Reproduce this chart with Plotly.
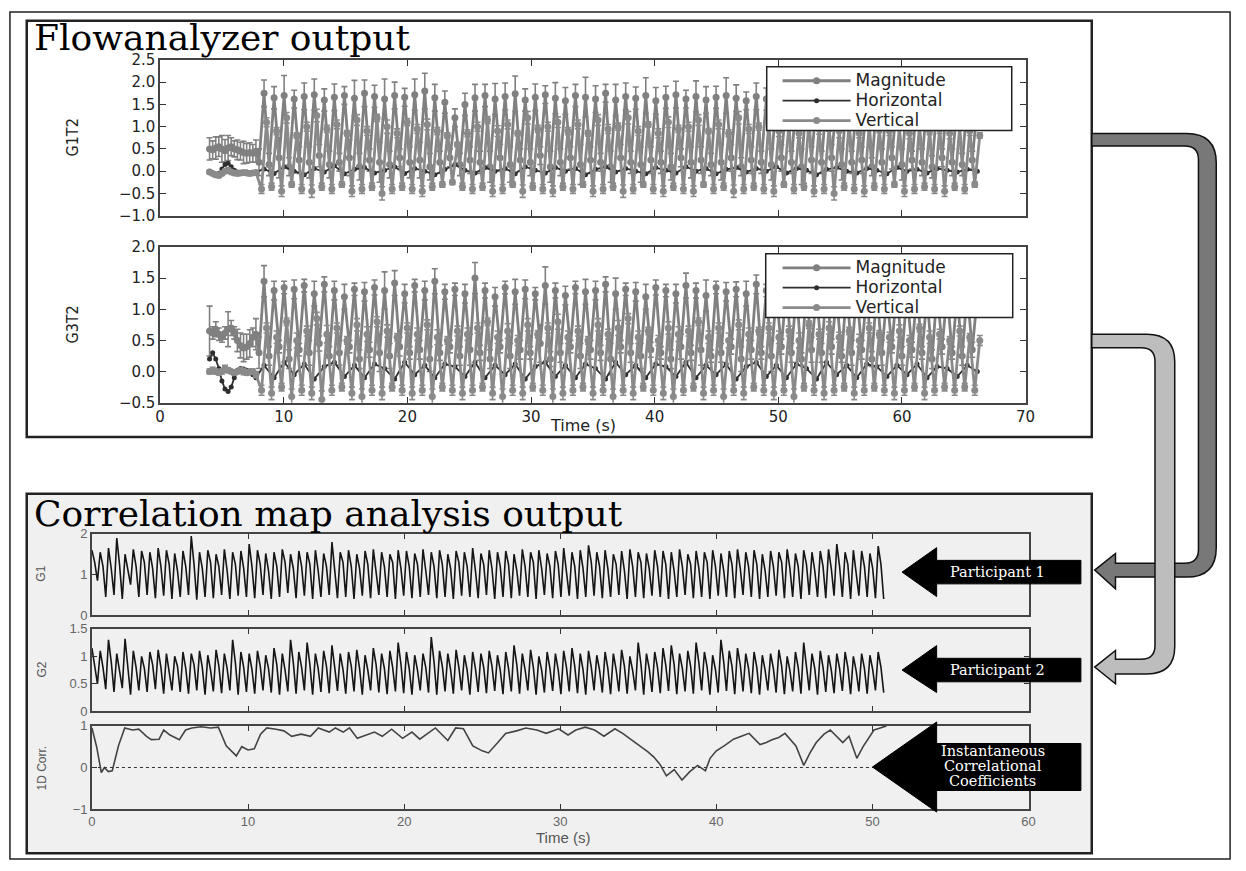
import plotly.graph_objects as go

W, H = 1246, 871

# ---------------- DATA: Flowanalyzer output (G1T2) ----------------
pre_start, pre_step = 4.0, 0.25
mag_pre1 = [0.50,0.48,0.52,0.55,0.50,0.46,0.52,0.55,0.50,0.48,0.45,0.42,0.40,0.42,0.40,0.45]
mag_pre_err1 = [0.25,0.20,0.25,0.22,0.30,0.25,0.28,0.20,0.18,0.22,0.20,0.25,0.22,0.22,0.20,0.25]
horiz_pre1 = [0.00,-0.05,-0.08,-0.05,0.05,0.15,0.18,0.10,0.02,-0.02,-0.04,-0.03,-0.02,-0.03,-0.04,-0.02]
vert_pre1 = [-0.02,-0.05,-0.08,-0.10,-0.05,0.00,0.02,-0.02,-0.04,-0.05,-0.04,-0.03,-0.04,-0.05,-0.04,-0.03]
vert_pre_err1 = [0.04,0.03,0.05,0.04,0.03,0.04,0.05,0.03,0.04,0.03,0.04,0.03,0.04,0.03,0.04,0.03]

main_start, main_end = 8.0, 66.5
mag_peak1 = [1.75,1.65,1.70,1.62,1.68,1.72,1.60,1.66,1.70,1.64,1.75,1.68,1.62,1.70,1.66,
             1.72,1.80,1.65,1.55,1.20,1.50,
             1.65,1.70,1.62,1.68,1.74,1.60,1.66,1.72,1.64,1.58,
             1.70,1.66,1.62,1.75,1.60,1.68,1.64,1.70,1.58,1.66,
             1.72,1.62,1.68,1.60,1.66,1.70,1.64,1.58,1.68,1.62,
             1.66,1.60,1.70,1.64,1.58,1.66,1.62,1.68,1.56,1.64,
             1.60,1.66,1.58,1.62,1.55,1.60,1.52,1.58,1.50,1.55,1.45]
mag_err1 = [0.30,0.25,0.45,0.20,0.30,0.35,0.25,0.30,0.20,0.40,0.30,0.25,0.45,0.30,0.20,
            0.35,0.40,0.30,0.25,0.20,0.25,
            0.30,0.25,0.35,0.30,0.40,0.25,0.30,0.20,0.35,0.30,
            0.25,0.45,0.30,0.20,0.35,0.30,0.25,0.40,0.30,0.25,
            0.30,0.20,0.35,0.30,0.25,0.40,0.30,0.20,0.30,0.25,
            0.35,0.30,0.25,0.40,0.30,0.25,0.30,0.35,0.25,0.30,
            0.20,0.30,0.25,0.35,0.20,0.30,0.25,0.20,0.30,0.25,0.20]
mag_trough1 = [0.20,0.15,0.30,0.10,0.25,0.20,0.35,0.15,0.20,0.30,0.10,0.25,0.20,0.15,0.30,
               0.20,0.25,0.10,0.20,0.30,0.15,
               0.25,0.20,0.10,0.30,0.15,0.25,0.20,0.35,0.10,0.20,
               0.30,0.15,0.25,0.20,0.10,0.30,0.20,0.15,0.25,0.20,
               0.10,0.30,0.20,0.25,0.15,0.20,0.30,0.10,0.25,0.20,
               0.15,0.30,0.20,0.10,0.25,0.20,0.30,0.15,0.20,0.25,
               0.10,0.20,0.30,0.15,0.25,0.20,0.10,0.30,0.20,0.15,0.25]
vert_peak1 = [1.10,0.90,1.20,0.80,1.00,1.25,0.95,1.05,0.85,1.15,0.90,1.20,1.00,0.85,1.10,
              0.95,1.05,0.90,0.80,0.60,0.85,
              1.00,1.15,0.90,1.05,0.85,1.20,0.95,1.00,1.10,0.90,
              1.05,0.85,1.15,0.95,1.00,1.20,0.90,1.05,0.85,1.10,
              0.95,1.00,1.15,0.90,1.05,0.85,1.20,0.95,1.00,1.10,
              0.90,1.05,0.85,1.15,0.95,1.00,0.90,1.10,0.85,1.05,
              0.95,0.90,1.00,0.85,1.05,0.90,0.95,0.85,1.00,0.90,0.80]
vert_trough1 = [-0.40,-0.35,-0.45,-0.30,-0.40,-0.45,-0.35,-0.40,-0.30,-0.45,-0.40,-0.35,-0.50,-0.40,-0.35,
                -0.40,-0.45,-0.35,-0.30,-0.25,-0.35,
                -0.40,-0.35,-0.45,-0.40,-0.30,-0.45,-0.35,-0.40,-0.45,-0.35,
                -0.40,-0.30,-0.45,-0.40,-0.35,-0.45,-0.40,-0.30,-0.40,-0.45,
                -0.35,-0.40,-0.45,-0.30,-0.40,-0.35,-0.45,-0.40,-0.35,-0.40,
                -0.45,-0.30,-0.40,-0.35,-0.45,-0.40,-0.50,-0.35,-0.40,-0.45,
                -0.35,-0.40,-0.30,-0.45,-0.40,-0.35,-0.40,-0.45,-0.35,-0.40,-0.30]
vert_err1 = [0.10,0.08,0.12,0.06,0.10,0.14,0.08,0.10,0.06,0.12,0.10,0.08,0.15,0.10,0.08,
             0.10,0.12,0.08,0.06,0.05,0.08,
             0.10,0.08,0.12,0.10,0.06,0.14,0.08,0.10,0.12,0.08,
             0.10,0.06,0.12,0.10,0.08,0.14,0.10,0.06,0.10,0.12,
             0.08,0.10,0.12,0.06,0.10,0.08,0.14,0.10,0.08,0.10,
             0.12,0.06,0.10,0.08,0.12,0.10,0.15,0.08,0.10,0.12,
             0.08,0.10,0.06,0.12,0.10,0.08,0.10,0.12,0.08,0.10,0.06]
horiz1 = [0.05,-0.05,0.10,0.00,-0.08,0.06,-0.02,0.12,-0.06,0.04,0.08,-0.04,0.02,0.10,-0.05,
          0.06,0.00,-0.08,0.04,0.15,0.02,
          -0.04,0.08,0.00,0.06,-0.06,0.10,0.02,-0.04,0.08,0.00,
          0.06,-0.08,0.04,0.10,-0.02,0.06,0.00,-0.06,0.08,0.02,
          -0.04,0.10,0.00,0.06,-0.06,0.04,0.08,-0.02,0.06,0.00,
          0.10,-0.04,0.06,0.02,-0.08,0.04,0.08,0.00,-0.04,0.06,
          0.02,-0.06,0.08,0.00,0.04,-0.04,0.06,0.02,-0.02,0.04,0.00]

# ---------------- DATA: Flowanalyzer output (G3T2) ----------------
mag_pre2 = [0.65,0.62,0.68,0.60,0.55,0.62,0.68,0.70,0.62,0.50,0.42,0.38,0.40,0.45,0.55,0.60]
mag_pre_err2 = [0.40,0.10,0.12,0.10,0.08,0.10,0.28,0.12,0.10,0.18,0.20,0.22,0.20,0.22,0.15,0.25]
horiz_pre2 = [0.20,0.30,0.20,0.05,-0.15,-0.28,-0.32,-0.25,-0.10,0.02,0.05,0.04,0.02,0.00,-0.05,-0.10]
vert_pre2 = [0.00,0.02,0.00,-0.02,0.00,0.05,0.02,0.00,-0.02,0.00,0.02,0.00,-0.02,0.00,0.00,-0.05]
vert_pre_err2 = [0.04,0.05,0.04,0.03,0.04,0.05,0.04,0.03,0.04,0.03,0.04,0.05,0.04,0.03,0.04,0.05]

mag_peak2 = [1.45,1.30,1.35,1.32,1.38,1.25,1.40,1.30,1.20,1.32,1.28,1.35,1.30,1.42,1.25,
             1.38,1.30,1.45,1.28,1.32,1.25,
             1.50,1.30,1.20,1.35,1.28,1.32,1.25,1.38,1.30,1.22,
             1.35,1.28,1.30,1.40,1.25,1.32,1.28,1.20,1.35,1.30,
             1.25,1.38,1.30,1.22,1.35,1.28,1.32,1.25,1.40,1.30,
             1.22,1.35,1.28,1.30,1.25,1.38,1.20,1.32,1.28,1.25,
             1.30,1.22,1.35,1.25,1.28,1.20,1.30,1.25,1.22,1.28,1.20]
mag_err2 = [0.25,0.15,0.10,0.15,0.10,0.20,0.12,0.15,0.20,0.10,0.15,0.12,0.30,0.20,0.15,
            0.10,0.15,0.20,0.12,0.10,0.15,
            0.25,0.12,0.15,0.10,0.20,0.15,0.10,0.30,0.12,0.15,
            0.10,0.20,0.15,0.12,0.25,0.10,0.15,0.20,0.12,0.10,
            0.15,0.20,0.12,0.25,0.10,0.15,0.12,0.20,0.15,0.10,
            0.25,0.12,0.15,0.10,0.20,0.15,0.12,0.10,0.20,0.15,
            0.12,0.20,0.10,0.15,0.12,0.10,0.15,0.12,0.10,0.15,0.12]
mag_trough2 = [0.30,0.25,0.40,0.20,0.35,0.30,0.45,0.25,0.30,0.40,0.20,0.35,0.30,0.25,0.40,
               0.30,0.35,0.20,0.30,0.40,0.25,
               0.35,0.30,0.20,0.40,0.25,0.35,0.30,0.45,0.20,0.30,
               0.40,0.25,0.35,0.30,0.20,0.40,0.30,0.25,0.35,0.30,
               0.20,0.40,0.30,0.35,0.25,0.30,0.40,0.20,0.35,0.30,
               0.25,0.40,0.30,0.20,0.35,0.30,0.40,0.25,0.30,0.35,
               0.20,0.30,0.40,0.25,0.35,0.30,0.20,0.40,0.30,0.25,0.35]
vert_peak2 = [0.70,0.55,0.80,0.50,0.65,0.85,0.60,0.70,0.50,0.75,0.60,0.80,0.65,0.55,0.70,
              0.60,0.75,0.55,0.50,0.65,0.60,
              0.70,0.80,0.55,0.65,0.50,0.75,0.60,0.70,0.80,0.55,
              0.65,0.50,0.75,0.60,0.70,0.85,0.55,0.65,0.50,0.70,
              0.60,0.65,0.80,0.55,0.70,0.50,0.75,0.60,0.65,0.70,
              0.55,0.65,0.50,0.75,0.60,0.70,0.55,0.65,0.50,0.70,
              0.60,0.55,0.65,0.50,0.70,0.55,0.60,0.50,0.65,0.55,0.50]
vert_trough2 = [-0.30,-0.35,-0.25,-0.40,-0.30,-0.35,-0.45,-0.30,-0.25,-0.35,-0.40,-0.30,-0.35,-0.25,-0.30,
                -0.35,-0.30,-0.40,-0.25,-0.30,-0.35,
                -0.30,-0.25,-0.35,-0.40,-0.30,-0.35,-0.25,-0.30,-0.40,-0.35,
                -0.30,-0.25,-0.35,-0.30,-0.40,-0.30,-0.35,-0.25,-0.30,-0.35,
                -0.40,-0.30,-0.25,-0.35,-0.30,-0.40,-0.30,-0.35,-0.25,-0.30,
                -0.35,-0.30,-0.40,-0.25,-0.30,-0.35,-0.30,-0.25,-0.35,-0.30,
                -0.25,-0.30,-0.35,-0.30,-0.25,-0.35,-0.30,-0.25,-0.30,-0.25,-0.30]
vert_err2 = [0.08,0.10,0.06,0.12,0.08,0.10,0.14,0.08,0.06,0.10,0.12,0.08,0.10,0.06,0.08,
             0.10,0.08,0.12,0.06,0.08,0.10,
             0.08,0.06,0.10,0.12,0.08,0.10,0.06,0.08,0.12,0.10,
             0.08,0.06,0.10,0.08,0.12,0.08,0.10,0.06,0.08,0.10,
             0.12,0.08,0.06,0.10,0.08,0.12,0.08,0.10,0.06,0.08,
             0.10,0.08,0.12,0.06,0.08,0.10,0.08,0.06,0.10,0.08,
             0.06,0.08,0.10,0.08,0.06,0.10,0.08,0.06,0.08,0.06,0.08]
horiz2 = [0.10,-0.10,0.15,-0.05,0.12,-0.12,0.08,0.15,-0.08,0.10,-0.10,0.12,0.05,-0.12,0.15,
          -0.05,0.10,-0.10,0.12,0.08,-0.08,
          0.15,-0.10,0.10,-0.05,0.12,-0.12,0.08,0.15,-0.08,0.10,
          -0.10,0.12,0.05,-0.12,0.15,-0.05,0.10,-0.10,0.12,0.08,
          -0.08,0.15,-0.10,0.10,-0.05,0.12,-0.12,0.08,0.15,-0.08,
          0.10,-0.10,0.12,0.05,-0.12,0.15,-0.05,0.10,-0.10,0.12,
          0.08,-0.08,0.10,-0.05,0.12,-0.10,0.08,0.05,-0.08,0.10,0.00]

# ---------------- DATA: Correlation map analysis ----------------
cm_end = 50.9
g1_peak = [1.60,1.55,1.65,1.90,1.50,1.62,1.58,1.55,1.65,1.60,
           1.52,1.58,1.95,1.55,1.60,1.50,1.62,1.55,1.58,1.75,
           1.60,1.52,1.55,1.62,1.50,1.58,1.55,1.60,1.52,1.80,
           1.55,1.60,1.50,1.58,1.62,1.55,1.50,1.60,1.58,1.52,
           1.62,1.55,1.60,1.50,1.58,1.55,1.65,1.52,1.60,1.55,
           1.58,1.50,1.62,1.55,1.60,1.52,1.58,1.65,1.55,1.60,
           1.72,1.55,1.60,1.50,1.58,1.62,1.55,1.52,1.60,1.58,
           1.55,1.62,1.50,1.58,1.55,1.60,1.52,1.58,1.62,1.55,
           1.60,1.50,1.58,1.55,1.62,1.52,1.60,1.55,1.58,1.62,
           1.75,1.55,1.60,1.58,1.52,1.70]
g1_mid = [1.30,1.20,1.15,1.25,1.10,1.20,1.30,1.15,1.20,1.25,
          1.10,1.20,1.25,1.15,1.30,1.20,1.10,1.25,1.15,1.20,
          1.25,1.10,1.20,1.30,1.15,1.20,1.25,1.10,1.20,1.15,
          1.30,1.20,1.15,1.25,1.10,1.20,1.30,1.15,1.20,1.25,
          1.10,1.20,1.25,1.15,1.30,1.20,1.10,1.25,1.15,1.20,
          1.25,1.10,1.20,1.30,1.15,1.20,1.25,1.10,1.20,1.15,
          1.30,1.20,1.15,1.25,1.10,1.20,1.30,1.15,1.20,1.25,
          1.10,1.20,1.25,1.15,1.30,1.20,1.10,1.25,1.15,1.20,
          1.25,1.10,1.20,1.30,1.15,1.20,1.25,1.10,1.20,1.15,
          1.20,1.25,1.10,1.20,1.15,1.25]
g1_trough = [0.85,0.45,0.50,0.40,0.75,0.45,0.50,0.42,0.48,0.40,
             0.45,0.50,0.38,0.45,0.42,0.50,0.40,0.48,0.45,0.42,
             0.50,0.40,0.45,0.55,0.42,0.48,0.40,0.45,0.50,0.42,
             0.45,0.40,0.48,0.42,0.50,0.45,0.40,0.48,0.42,0.45,
             0.50,0.42,0.45,0.40,0.48,0.45,0.42,0.50,0.40,0.45,
             0.42,0.48,0.45,0.40,0.50,0.42,0.45,0.48,0.40,0.45,
             0.48,0.42,0.45,0.50,0.40,0.45,0.42,0.48,0.45,0.40,
             0.45,0.50,0.42,0.45,0.40,0.48,0.45,0.42,0.50,0.45,
             0.40,0.45,0.48,0.42,0.45,0.40,0.50,0.45,0.42,0.48,
             0.45,0.40,0.48,0.45,0.42,0.40]
g2_peak = [1.15,1.10,1.30,1.05,1.32,1.10,1.00,1.08,1.12,1.05,
           1.00,1.08,1.05,1.10,1.02,1.12,1.05,1.30,1.08,1.05,
           1.10,1.02,1.15,1.05,1.30,1.08,1.25,1.05,1.10,1.20,
           1.05,1.08,1.12,1.02,1.15,1.05,1.10,1.25,1.08,1.02,
           1.05,1.35,1.10,1.05,1.12,1.02,1.08,1.05,1.10,1.02,
           1.08,1.20,1.05,1.12,1.00,1.08,1.05,1.10,1.15,1.05,
           1.10,1.02,1.08,1.05,1.12,1.00,1.25,1.05,1.08,1.15,
           1.20,1.05,1.10,1.25,1.08,1.02,1.30,1.10,1.15,1.05,
           1.08,1.02,1.05,1.12,1.00,1.08,1.25,1.05,1.10,1.02,
           1.05,1.08,1.00,1.05,1.02,1.08]
g2_mid = [0.85,0.80,0.90,0.75,0.85,0.80,0.78,0.85,0.80,0.75,
          0.82,0.78,0.85,0.80,0.75,0.82,0.78,0.88,0.80,0.76,
          0.82,0.78,0.85,0.75,0.88,0.80,0.85,0.78,0.82,0.80,
          0.76,0.82,0.78,0.75,0.85,0.78,0.80,0.86,0.78,0.75,
          0.80,0.90,0.82,0.76,0.80,0.75,0.78,0.80,0.82,0.75,
          0.78,0.85,0.76,0.80,0.75,0.78,0.76,0.80,0.82,0.76,
          0.80,0.75,0.78,0.76,0.82,0.74,0.86,0.78,0.80,0.84,
          0.86,0.78,0.82,0.88,0.80,0.76,0.90,0.82,0.85,0.78,
          0.80,0.75,0.78,0.82,0.74,0.80,0.86,0.78,0.80,0.75,
          0.78,0.80,0.74,0.78,0.76,0.80]
g2_trough = [0.50,0.40,0.35,0.42,0.30,0.38,0.35,0.40,0.32,0.38,
             0.35,0.32,0.38,0.30,0.36,0.33,0.38,0.30,0.35,0.32,
             0.38,0.34,0.30,0.36,0.32,0.38,0.30,0.35,0.33,0.37,
             0.32,0.36,0.30,0.38,0.34,0.31,0.36,0.33,0.30,0.38,
             0.34,0.30,0.36,0.32,0.38,0.30,0.35,0.33,0.37,0.31,
             0.36,0.32,0.38,0.30,0.34,0.37,0.31,0.36,0.33,0.30,
             0.38,0.34,0.31,0.36,0.32,0.38,0.30,0.35,0.33,0.37,
             0.31,0.36,0.32,0.38,0.30,0.34,0.37,0.31,0.36,0.33,
             0.30,0.38,0.34,0.31,0.36,0.32,0.38,0.30,0.35,0.33,
             0.37,0.31,0.36,0.32,0.38,0.34]
corr_t = [0.0,0.3,0.6,0.8,1.05,1.3,1.7,2.1,2.6,3.0,3.5,3.8,4.3,4.6,5.0,5.6,6.0,6.4,7.0,7.6,
          8.1,8.6,9.25,9.6,10.0,10.4,10.8,11.2,11.8,12.3,12.8,13.4,14.0,14.5,15.2,15.6,16.1,16.5,17.0,17.6,
          18.1,18.6,19.2,19.9,20.5,21.0,21.5,22.0,22.8,23.3,23.8,24.4,25.0,25.4,26.0,26.5,27.2,27.8,28.5,29.1,
          29.9,30.5,31.0,31.6,32.2,32.8,33.5,34.0,34.5,35.0,35.6,36.0,36.4,36.8,37.3,37.8,38.3,38.8,39.3,39.6,
          40.0,40.5,41.1,41.6,42.1,42.8,43.2,43.6,44.0,44.4,45.1,45.6,46.0,46.4,46.9,47.3,47.7,48.1,48.5,49.0,
          49.4,49.7,50.1,50.5,50.9]
corr_r = [0.95,0.50,-0.12,0.00,-0.10,-0.08,0.52,0.95,0.90,0.92,0.75,0.67,0.68,0.90,0.78,0.67,0.90,0.95,0.98,0.95,
          0.97,0.52,0.28,0.50,0.42,0.45,0.80,0.95,0.92,0.88,0.75,0.80,0.75,0.95,0.85,0.95,0.85,0.95,0.70,0.78,
          0.85,0.75,0.92,0.70,0.85,0.68,0.82,0.95,0.65,0.95,0.93,0.52,0.40,0.35,0.60,0.82,0.88,0.95,0.90,0.82,
          0.93,0.78,0.90,0.97,0.90,0.75,0.93,0.82,0.68,0.55,0.38,0.25,0.07,-0.20,-0.05,-0.30,-0.10,0.05,-0.08,0.22,
          0.40,0.52,0.68,0.75,0.82,0.55,0.60,0.67,0.72,0.82,0.52,0.05,0.35,0.60,0.80,0.90,0.75,0.60,0.75,0.22,
          0.50,0.68,0.90,0.95,1.00]

series_names = ["Magnitude", "Horizontal", "Vertical"]
panel_titles = ["Flowanalyzer output", "Correlation map analysis output"]
arrow_labels = ["Participant 1", "Participant 2", ["Instantaneous", "Correlational", "Coefficients"]]

# ---------------- helpers ----------------
def px(x):
    return x / W

def py(y):
    return 1 - y / H

def path(cmds):
    out = []
    for c in cmds:
        op, nums = c[0], c[1:]
        pts = []
        for i in range(0, len(nums), 2):
            pts.append(f"{px(nums[i]):.5f},{py(nums[i+1]):.5f}")
        out.append(op + " " + " ".join(pts))
    return " ".join(out) + " Z"

def build_top(mag_pre, mag_pre_err, horiz_pre, vert_pre, vert_pre_err, mag_trough, mag_peak, mag_err,
              vert_trough, vert_peak, vert_err, horiz):
    n = len(mag_peak)
    P = (main_end - main_start) / n
    pre_t = [pre_start + pre_step * k for k in range(len(mag_pre))]
    mt, my, me = list(pre_t), list(mag_pre), list(mag_pre_err)
    vt, vy, ve = list(pre_t), list(vert_pre), list(vert_pre_err)
    ht, hy = list(pre_t), list(horiz_pre)
    for i, (tr, pk, e) in enumerate(zip(mag_trough, mag_peak, mag_err)):
        t0 = main_start + i * P
        mt += [t0, t0 + P / 2]
        my += [tr, pk]
        me += [e, e]
    for i, (tr, pk, e) in enumerate(zip(vert_trough, vert_peak, vert_err)):
        t0 = main_start + i * P
        vt += [t0 + P / 4, t0 + 3 * P / 4]
        vy += [tr, pk]
        ve += [e, e]
    for i, h in enumerate(horiz):
        t0 = main_start + i * P
        ht.append(t0 + P / 2)
        hy.append(h)
    return (mt, my, me), (ht, hy), (vt, vy, ve)

def build_bottom(peak, mid, trough):
    n = len(peak)
    P = cm_end / n
    t, y = [], []
    for i, (a, b, c) in enumerate(zip(peak, mid, trough)):
        t0 = i * P
        t += [t0, t0 + P / 3, t0 + 2 * P / 3]
        y += [a, b, c]
    return t, y

fig = go.Figure()

MAG_C, HOR_C, VER_C = "#808080", "#2e2e2e", "#8a8a8a"
LEG_TXT = "<span style='font-size:17px'>{}</span>"
top_sets = [
    build_top(mag_pre1, mag_pre_err1, horiz_pre1, vert_pre1, vert_pre_err1, mag_trough1, mag_peak1, mag_err1,
              vert_trough1, vert_peak1, vert_err1, horiz1),
    build_top(mag_pre2, mag_pre_err2, horiz_pre2, vert_pre2, vert_pre_err2, mag_trough2, mag_peak2, mag_err2,
              vert_trough2, vert_peak2, vert_err2, horiz2),
]
for k, ((mt, my, me), (ht, hy), (vt, vy, ve)) in enumerate(top_sets):
    xa, ya = ("x", "y") if k == 0 else ("x2", "y2")
    lg = "legend" if k == 0 else "legend2"
    fig.add_trace(go.Scatter(x=mt, y=my, mode="lines+markers", name=LEG_TXT.format(series_names[0]),
                             xaxis=xa, yaxis=ya, legend=lg, legendrank=1,
                             line=dict(color=MAG_C, width=2.8),
                             marker=dict(color=MAG_C, size=7),
                             error_y=dict(type="data", array=me, color=MAG_C, thickness=1.6, width=3)))
    fig.add_trace(go.Scatter(x=ht, y=hy, mode="lines+markers", name=LEG_TXT.format(series_names[1]),
                             xaxis=xa, yaxis=ya, legend=lg, legendrank=2,
                             line=dict(color=HOR_C, width=1.8),
                             marker=dict(color=HOR_C, size=5)))
    fig.add_trace(go.Scatter(x=vt, y=vy, mode="lines+markers", name=LEG_TXT.format(series_names[2]),
                             xaxis=xa, yaxis=ya, legend=lg, legendrank=3,
                             line=dict(color=VER_C, width=2.8),
                             marker=dict(color=VER_C, size=7),
                             error_y=dict(type="data", array=ve, color=VER_C, thickness=1.6, width=3)))

g1_t, g1_y = build_bottom(g1_peak, g1_mid, g1_trough)
g2_t, g2_y = build_bottom(g2_peak, g2_mid, g2_trough)
fig.add_trace(go.Scatter(x=g1_t, y=g1_y, mode="lines", xaxis="x3", yaxis="y3", showlegend=False,
                         line=dict(color="#151515", width=1.6)))
fig.add_trace(go.Scatter(x=g2_t, y=g2_y, mode="lines", xaxis="x4", yaxis="y4", showlegend=False,
                         line=dict(color="#151515", width=1.6)))
fig.add_trace(go.Scatter(x=corr_t, y=corr_r, mode="lines", xaxis="x5", yaxis="y5", showlegend=False,
                         line=dict(color="#444444", width=1.6)))

# ---------------- axes ----------------
top_font = dict(family="DejaVu Sans", size=15, color="#222222")
bot_font = dict(family="Liberation Sans, Arial", size=13, color="#666666")

def top_axis_x(dom_y_anchor, labels):
    return dict(domain=[px(157), px(1033)], range=[0, 70], tickvals=list(range(0, 71, 10)),
                showticklabels=labels, ticks="inside", ticklen=6, tickcolor="#333",
                showline=True, linecolor="#444", linewidth=1.5, mirror="ticks",
                showgrid=False, zeroline=False, tickfont=top_font, anchor=dom_y_anchor)

def top_axis_y(y0, y1, rng, dtick, anchor):
    return dict(domain=[py(y1), py(y0)], range=rng, dtick=dtick, tick0=rng[0], tickformat=".1f",
                ticks="inside", ticklen=6, tickcolor="#333", showline=True, linecolor="#444",
                linewidth=1.5, mirror="ticks", showgrid=False, zeroline=False,
                tickfont=top_font, anchor=anchor)

def bot_axis_x(anchor, labels):
    return dict(domain=[px(88), px(1036)], range=[0, 60], tickvals=list(range(0, 61, 10)),
                showticklabels=labels, ticks="inside", ticklen=5, tickcolor="#333",
                showline=True, linecolor="#444", linewidth=1.5, mirror="ticks",
                showgrid=False, zeroline=False, tickfont=bot_font, anchor=anchor)

def bot_axis_y(y0, y1, rng, tickvals, anchor):
    return dict(domain=[py(y1), py(y0)], range=rng, tickvals=tickvals,
                ticks="inside", ticklen=5, tickcolor="#333", showline=True, linecolor="#444",
                linewidth=1.5, mirror="ticks", showgrid=False, zeroline=False,
                tickfont=bot_font, anchor=anchor)

fig.update_layout(
    xaxis=top_axis_x("y", False),
    yaxis=top_axis_y(52, 211, [-1.0, 2.5], 0.5, "x"),
    xaxis2=top_axis_x("y2", True),
    yaxis2=top_axis_y(243, 402, [-0.5, 2.0], 0.5, "x2"),
    xaxis3=bot_axis_x("y3", False),
    yaxis3=bot_axis_y(536, 619, [0, 2], [0, 1, 2], "x3"),
    xaxis4=bot_axis_x("y4", False),
    yaxis4=bot_axis_y(633, 717, [0, 1.5], [0, 0.5, 1, 1.5], "x4"),
    xaxis5=bot_axis_x("y5", True),
    yaxis5=bot_axis_y(732, 817, [-1, 1], [-1, 0, 1], "x5"),
)

leg_common = dict(xanchor="left", yanchor="top", bgcolor="rgba(0,0,0,0)", borderwidth=0,
                  font=dict(family="DejaVu Sans", size=13, color="#222222"),
                  itemwidth=68, traceorder="normal")
fig.update_layout(
    legend=dict(x=px(782), y=py(58), **leg_common),
    legend2=dict(x=px(782), y=py(249), **leg_common),
)

# ---------------- shapes ----------------
shapes = []
shapes.append(dict(type="rect", xref="paper", yref="paper", x0=px(22), x1=px(1100), y0=py(862), y1=py(495),
                   fillcolor="#f0f0f0", line=dict(color="#222", width=2.5), layer="below"))
shapes.append(dict(type="rect", xref="paper", yref="paper", x0=px(22), x1=px(1100), y0=py(437), y1=py(12),
                   fillcolor="rgba(0,0,0,0)", line=dict(color="#222", width=2.5), layer="above"))
shapes.append(dict(type="rect", xref="paper", yref="paper", x0=px(5), x1=px(1240), y0=py(868), y1=py(3),
                   fillcolor="rgba(0,0,0,0)", line=dict(color="#222", width=1.5), layer="above"))
for (lx0, ly0, lx1, ly1) in [(771, 59, 1019, 124), (770, 250, 1020, 315)]:
    shapes.append(dict(type="rect", xref="paper", yref="paper", x0=px(lx0), x1=px(lx1), y0=py(ly1), y1=py(ly0),
                       fillcolor="white", line=dict(color="#222", width=1.5), layer="above"))
shapes.append(dict(type="line", xref="x5", yref="y5", x0=0, x1=60, y0=0, y1=0,
                   line=dict(color="#333", width=1, dash="dot"), layer="above"))
dark = path([("M", 1100, 127), ("L", 1196, 127), ("Q", 1226, 127, 1226, 157), ("L", 1226, 550),
             ("Q", 1226, 580, 1196, 580), ("L", 1124, 580), ("L", 1124, 592), ("L", 1103, 573),
             ("L", 1124, 556), ("L", 1124, 566), ("L", 1194, 566), ("Q", 1208, 566, 1208, 552),
             ("L", 1208, 154), ("Q", 1208, 140, 1194, 140), ("L", 1100, 140)])
shapes.append(dict(type="path", xref="paper", yref="paper", path=dark, fillcolor="#787878",
                   line=dict(color="#111", width=1.5), layer="above"))
light = path([("M", 1100, 332), ("L", 1156, 332), ("Q", 1184, 332, 1184, 360), ("L", 1184, 651),
              ("Q", 1184, 679, 1156, 679), ("L", 1124, 679), ("L", 1124, 689), ("L", 1103, 672),
              ("L", 1124, 655), ("L", 1124, 664), ("L", 1150, 664), ("Q", 1164, 664, 1164, 650),
              ("L", 1164, 360), ("Q", 1164, 346, 1150, 346), ("L", 1100, 346)])
shapes.append(dict(type="path", xref="paper", yref="paper", path=light, fillcolor="#bdbdbd",
                   line=dict(color="#111", width=1.5), layer="above"))
for (tipx, tipy, hx, ht, hb, bt, bb) in [(908, 575, 943, 550, 600, 563, 587),
                                         (908, 675, 943, 650, 698, 663, 687),
                                         (878, 774, 943, 728, 820, 750, 798)]:
    p = path([("M", tipx, tipy), ("L", hx, ht), ("L", hx, bt), ("L", 1089, bt), ("L", 1089, bb),
              ("L", hx, bb), ("L", hx, hb)])
    shapes.append(dict(type="path", xref="paper", yref="paper", path=p, fillcolor="black",
                       line=dict(color="black", width=1), layer="above"))
fig.update_layout(shapes=shapes)

# ---------------- annotations ----------------
ann = []
def A(text, x, y, font, angle=0, xanchor="center"):
    ann.append(dict(text=text, x=px(x), y=py(y), xref="paper", yref="paper", showarrow=False,
                    xanchor=xanchor, yanchor="middle", textangle=angle, font=font))

serif_title = dict(family="DejaVu Serif", size=36, color="black")
A(panel_titles[0], 27, 29, serif_title, xanchor="left")
A(panel_titles[1], 27, 515, serif_title, xanchor="left")
narrow = dict(family="Liberation Sans Narrow, DejaVu Sans Condensed, Liberation Sans", size=16, color="#222")
A("G1T2", 68, 131, narrow, angle=-90)
A("G3T2", 68, 322, narrow, angle=-90)
A("Time (s)", 585, 425, dict(family="DejaVu Sans", size=16, color="#222"))
A("Time (s)", 565, 846, dict(family="Liberation Sans, Arial", size=15, color="#555"))
small = dict(family="Liberation Sans, Arial", size=12, color="#555")
A("G1", 37, 577, small, angle=-90)
A("G2", 37, 675, small, angle=-90)
A("1D Corr.", 37, 775, small, angle=-90)
white = dict(family="DejaVu Serif", size=14.5, color="white")
A(arrow_labels[0], 1005, 575, white)
A(arrow_labels[1], 1005, 675, white)
for txt, yy in zip(arrow_labels[2], [758, 773, 788]):
    A(txt, 1000, yy, white)
fig.update_layout(annotations=ann)

fig.update_layout(width=W, height=H, margin=dict(l=0, r=0, t=0, b=0),
                  paper_bgcolor="white", plot_bgcolor="white", showlegend=True)

fit_js = ("document.body.style.margin='0';document.body.style.padding='0';"
          "document.body.style.overflow='hidden';")
fig.write_html("out.html", config={"displayModeBar": False}, post_script=fit_js)
